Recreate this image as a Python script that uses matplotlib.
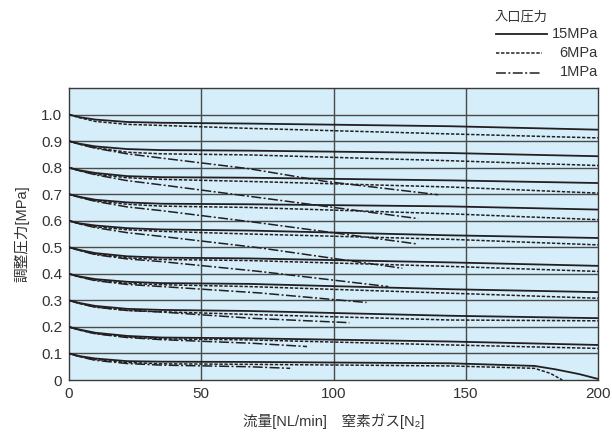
import matplotlib
matplotlib.use("Agg")
import matplotlib.pyplot as plt
from matplotlib.lines import Line2D

plt.rcParams['font.family'] = ['Liberation Sans', 'Noto Sans CJK JP', 'DejaVu Sans']

# colours
bg_color = "#d5eef9"
line_color = "#231f20"
grid_color = "#4a4a4a"
text_color = "#333333"

# set pressures [MPa]
set_pressure = [1.0, 0.9, 0.8, 0.7, 0.6, 0.5, 0.4, 0.3, 0.2, 0.1]

# inlet 15MPa (solid)
flow_15 = [[0, 4, 10, 22, 35, 68, 144, 200]] * 9 + \
          [[0, 4, 10, 22, 35, 68, 144, 176, 184, 193, 200]]
p_15 = [
    [1.0, 0.990, 0.981, 0.972, 0.969, 0.966, 0.956, 0.943],
    [0.9, 0.890, 0.880, 0.870, 0.866, 0.864, 0.855, 0.843],
    [0.8, 0.790, 0.780, 0.768, 0.764, 0.762, 0.752, 0.742],
    [0.7, 0.690, 0.679, 0.669, 0.664, 0.662, 0.654, 0.642],
    [0.6, 0.590, 0.582, 0.572, 0.567, 0.563, 0.545, 0.535],
    [0.5, 0.490, 0.478, 0.466, 0.461, 0.458, 0.443, 0.430],
    [0.4, 0.390, 0.380, 0.370, 0.365, 0.362, 0.342, 0.331],
    [0.3, 0.290, 0.279, 0.268, 0.264, 0.260, 0.242, 0.233],
    [0.2, 0.190, 0.178, 0.166, 0.160, 0.157, 0.145, 0.132],
    [0.1, 0.090, 0.081, 0.071, 0.069, 0.068, 0.063, 0.053, 0.040, 0.022, 0.004],
]

# inlet 6MPa (dashed)
flow_6 = [[0, 4, 10, 22, 35, 68, 144, 200]] * 9 + \
         [[0, 4, 10, 22, 35, 68, 144, 176, 182, 186.5]]
p_6 = [
    [1.0, 0.988, 0.974, 0.963, 0.959, 0.948, 0.927, 0.912],
    [0.9, 0.888, 0.875, 0.858, 0.852, 0.848, 0.826, 0.808],
    [0.8, 0.788, 0.775, 0.762, 0.756, 0.748, 0.727, 0.704],
    [0.7, 0.688, 0.675, 0.662, 0.655, 0.650, 0.626, 0.604],
    [0.6, 0.588, 0.577, 0.566, 0.560, 0.550, 0.530, 0.509],
    [0.5, 0.488, 0.474, 0.460, 0.454, 0.450, 0.428, 0.409],
    [0.4, 0.388, 0.376, 0.364, 0.359, 0.352, 0.327, 0.308],
    [0.3, 0.288, 0.275, 0.262, 0.257, 0.247, 0.226, 0.223],
    [0.2, 0.188, 0.175, 0.162, 0.155, 0.151, 0.132, 0.119],
    [0.1, 0.088, 0.077, 0.066, 0.061, 0.059, 0.053, 0.044, 0.025, 0.0],
]

# inlet 1MPa (dash-dot), no curve for 1.0
flow_1 = [
    [0, 4, 10, 22, 35, 68, 97, 139.6],
    [0, 4, 10, 22, 35, 72, 132],
    [0, 4, 10, 22, 35, 72, 132],
    [0, 4, 10, 22, 35, 72, 126],
    [0, 4, 10, 22, 35, 72, 120.7],
    [0, 4, 10, 22, 35, 72, 112.5],
    [0, 4, 10, 22, 35, 70, 106],
    [0, 4, 10, 22, 35, 70, 90],
    [0, 4, 10, 22, 35, 68, 83.6],
]
p_1 = [
    [0.9, 0.888, 0.873, 0.852, 0.836, 0.796, 0.748, 0.698],
    [0.8, 0.788, 0.773, 0.751, 0.735, 0.687, 0.608],
    [0.7, 0.688, 0.673, 0.652, 0.638, 0.592, 0.512],
    [0.6, 0.588, 0.574, 0.555, 0.541, 0.498, 0.421],
    [0.5, 0.488, 0.472, 0.456, 0.446, 0.409, 0.352],
    [0.4, 0.388, 0.374, 0.360, 0.352, 0.328, 0.292],
    [0.3, 0.288, 0.274, 0.262, 0.256, 0.232, 0.216],
    [0.2, 0.188, 0.174, 0.160, 0.152, 0.138, 0.126],
    [0.1, 0.088, 0.074, 0.062, 0.056, 0.050, 0.044],
]

x_ticks = [0, 50, 100, 150, 200]
y_ticks = [0, 0.1, 0.2, 0.3, 0.4, 0.5, 0.6, 0.7, 0.8, 0.9, 1.0]
y_labels = ["0", "0.1", "0.2", "0.3", "0.4", "0.5", "0.6", "0.7", "0.8", "0.9", "1.0"]
legend_labels = ["15MPa", "6MPa", "1MPa"]

dash_6 = (2.2, 1.1)
dash_1 = (6.5, 1.6, 1.3, 1.6)

fig = plt.figure(figsize=(6.12, 4.34), dpi=100)
ax = fig.add_axes([69/612, 54/434, 529/612, 292/434])
ax.set_facecolor(bg_color)
ax.set_xlim(0, 200)
ax.set_ylim(0, 1.1)

for y in y_ticks[1:]:
    ax.axhline(y, color=grid_color, lw=1.0, zorder=1)
for x in x_ticks[1:-1]:
    ax.axvline(x, color=grid_color, lw=1.0, zorder=1)

for q, p in zip(flow_6, p_6):
    ax.plot(q, p, color=line_color, lw=1.1, ls=(0, dash_6), zorder=3)
for q, p in zip(flow_1, p_1):
    ax.plot(q, p, color=line_color, lw=1.1, ls=(0, dash_1), zorder=3)
for q, p in zip(flow_15, p_15):
    ax.plot(q, p, color=line_color, lw=1.3, zorder=4)

for s in ax.spines.values():
    s.set_color("#3a3a3a")
    s.set_linewidth(1.0)
ax.set_xticks(x_ticks)
ax.set_yticks(y_ticks)
ax.set_yticklabels(y_labels)
ax.tick_params(length=0, labelsize=11, colors=text_color, pad=5)

ax.set_xlabel("流量[NL/min]　窒素ガス[N₂]", fontsize=10.5, color=text_color, labelpad=9)
ax.set_ylabel("調整圧力[MPa]", fontsize=10.5, color=text_color, labelpad=8)

# legend drawn in figure pixels
W, H = 612, 434
fig.text(495/W, 1 - 17/H, "入口圧力", fontsize=9.5, color=text_color, va="center", ha="left")
styles = [dict(ls="-", lw=1.3), dict(ls=(0, dash_6), lw=1.1), dict(ls=(0, dash_1), lw=1.1)]
rows_y = [33.5, 53, 72.5]
line_end = [547, 542, 542]
for lab, st, yy, xe in zip(legend_labels, styles, rows_y, line_end):
    fig.add_artist(Line2D([496/W, xe/W], [1 - yy/H, 1 - yy/H], color=line_color, **st))
    fig.text(598/W, 1 - yy/H, lab, fontsize=10.5, color=text_color, va="center", ha="right")

plt.savefig("out.png", dpi=100)
